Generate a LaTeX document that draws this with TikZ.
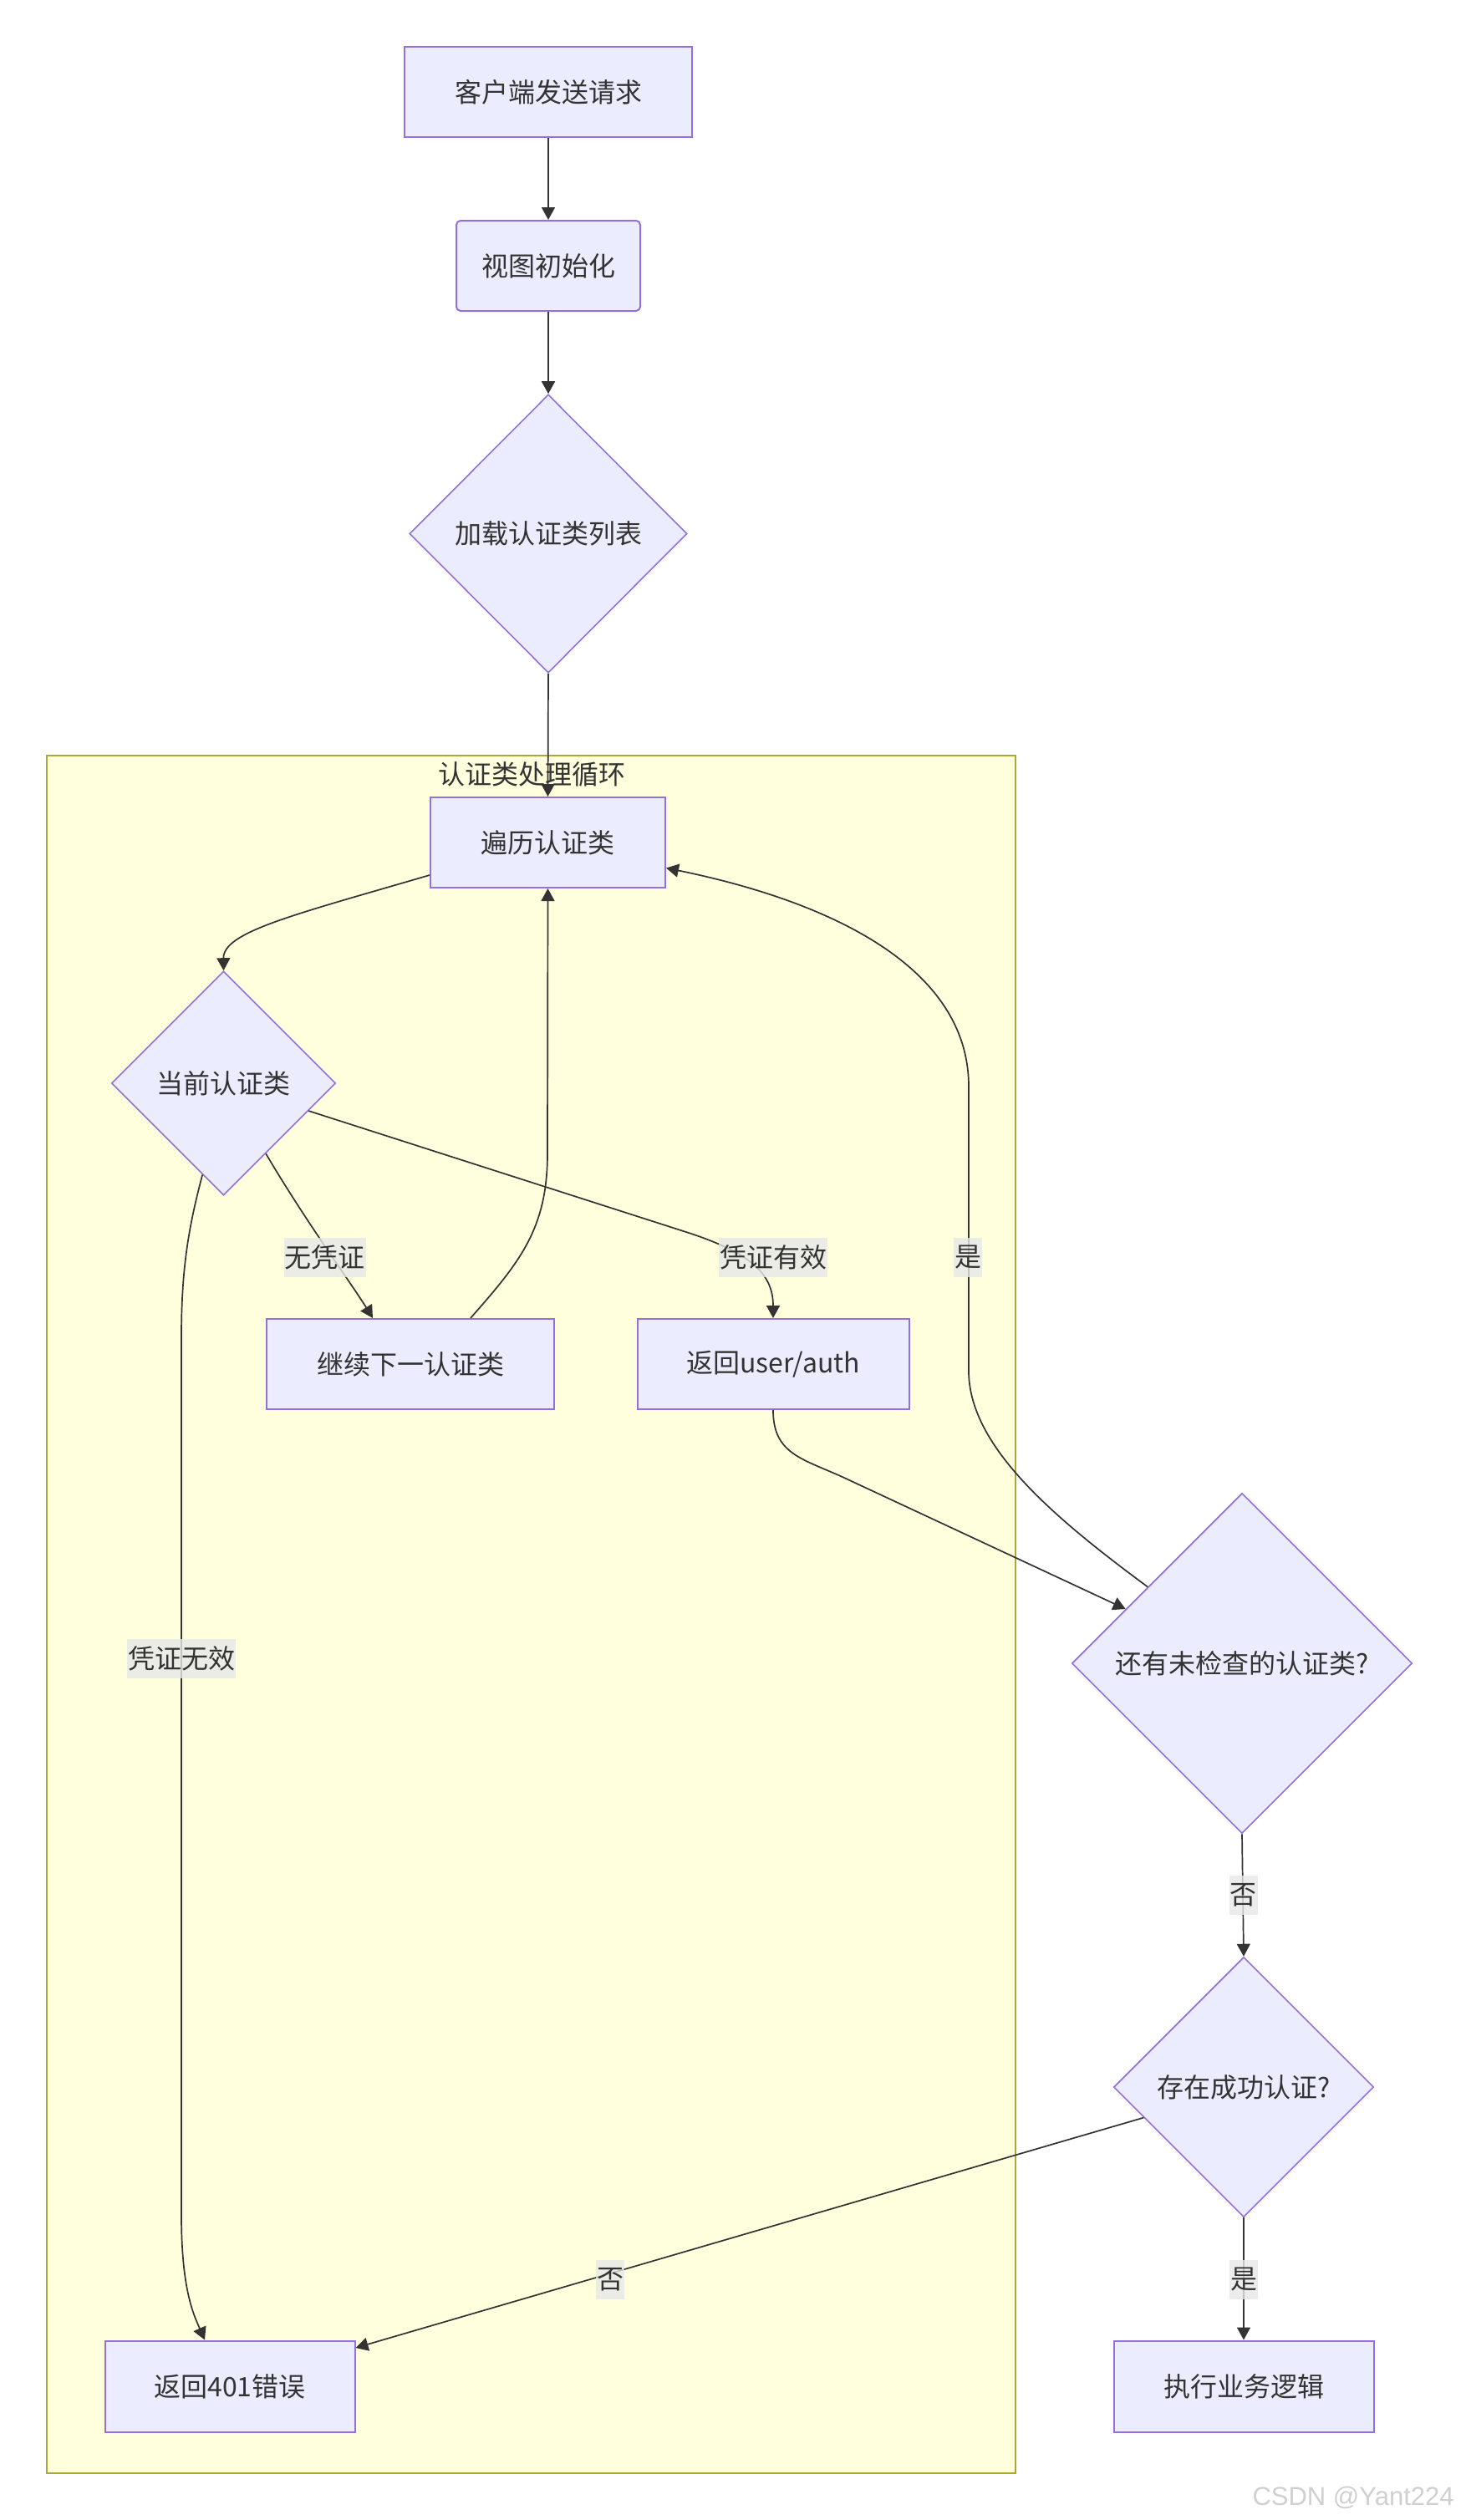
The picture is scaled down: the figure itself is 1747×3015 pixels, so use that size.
\documentclass[tikz,border=0pt]{standalone}
\usepackage{fontspec}
\setmainfont{Noto Sans CJK SC}
\newfontfamily\wmfont{Liberation Sans}
\usetikzlibrary{shapes.geometric,arrows.meta,calc}
\definecolor{nfill}{HTML}{ECECFF}
\definecolor{nstroke}{HTML}{9370DB}
\definecolor{cfill}{HTML}{FFFFDE}
\definecolor{cstroke}{HTML}{AAAA33}
\definecolor{ecol}{HTML}{333333}
\definecolor{txt}{HTML}{333333}
\definecolor{lbg}{HTML}{E8E8E8}
\definecolor{wm}{HTML}{D0D0D0}
\begin{document}
\begin{tikzpicture}[x=0.5pt,y=-0.5pt,
  every node/.style={text=txt,font=\fontsize{16pt}{19pt}\selectfont},
  box/.style={draw=nstroke,fill=nfill,line width=1pt,inner sep=0pt,minimum height=54pt},
  rbox/.style={box,rounded corners=2.5pt},
  dia/.style={diamond,aspect=1,draw=nstroke,fill=nfill,line width=0.8pt,inner sep=0pt},
  lbl/.style={fill=lbg,fill opacity=0.8,text opacity=1,inner xsep=0.5pt,inner ysep=0pt,minimum height=23.5pt},
  cluster/.style={draw=cstroke,fill=cfill,line width=1pt},
  edge/.style={draw=ecol,line width=0.85pt,-{Triangle[length=7.5pt,width=8pt]}}
]
\useasboundingbox[fill=white] (0,0) rectangle (1747,3015);
\draw[cluster] (55.7,903.7) rectangle (1214.5,2959);
\node (ct) at (636,926) {认证类处理循环};

\node[box,minimum width=172pt] (n1) at (656,110) {客户端发送请求};
\node[rbox,minimum width=110pt] (n2) at (656,318) {视图初始化};
\node[dia,minimum width=166pt,minimum height=166.5pt] (n3) at (656,638.5) {加载认证类列表};
\node[box,minimum width=140.5pt,minimum height=54pt] (n4) at (655.5,1008) {遍历认证类};
\node[dia,minimum width=134pt,minimum height=134pt] (n5) at (267.5,1296) {当前认证类};
\node[box,minimum width=172pt] (n6) at (491,1632) {继续下一认证类};
\node[box,minimum width=162.5pt] (n7) at (925,1632) {返回user/auth};
\node[dia,minimum width=203.5pt,minimum height=203.5pt] (n8) at (1486,1990) {还有未检查的认证类?};
\node[dia,minimum width=155.5pt,minimum height=155.5pt] (n9) at (1488,2497) {存在成功认证?};
\node[box,minimum width=155.5pt,minimum height=54.5pt] (n10) at (1488,2855) {执行业务逻辑};
\node[box,minimum width=149.5pt,minimum height=54.5pt] (n11) at (275,2855) {返回401错误};

% edges
\draw[edge] (n1.south) -- (n2.north);
\draw[edge] (n2.south) -- (n3.north);
\draw[edge] (n3.south) -- (n4.north);
\draw[edge] ([yshift=8pt]n4.south west) .. controls (350,1095) and (267,1115) .. (n5.north);
\draw[edge] (n5.-59) .. controls (365,1460) and (420,1535) .. ([xshift=-22.5pt]n6.north);
\draw[edge] ([xshift=36pt]n6.north) .. controls (622,1510) and (655,1470) .. (655,1380) -- (n4.south);
\draw[edge] (n5.-18.5) -- (824,1475) .. controls (900,1500) and (925,1525) .. (n7.north);
\draw[edge] (n5.-103) .. controls (225,1470) and (217,1520) .. (217,1600) -- (217,2650) .. controls (217,2740) and (232,2770) .. ([xshift=-15pt]n11.north);
\draw[edge] (n7.south) .. controls (925,1740) and (960,1745) .. (1010,1768) -- (n8.155.8);
\draw[edge] (n8.141.9) .. controls (1260,1815) and (1159,1730) .. (1159,1640) -- (1159,1300) .. controls (1159,1160) and (1000,1080) .. ([yshift=-15.25pt]n4.east);
\draw[edge] (n8.south) -- (n9.north);
\draw[edge] (n9.197.4) -- ([yshift=23pt]n11.east);
\draw[edge] (n9.south) -- (n10.north);

% edge labels
\node[lbl] (l1) at (388.5,1504) {无凭证};
\node[lbl] (l2) at (925,1504) {凭证有效};
\node[lbl] (l3) at (1158,1504) {是};
\node[lbl] (l4) at (217,1984) {凭证无效};
\node[lbl] (l5) at (1487.5,2267.5) {否};
\node[lbl] (l6) at (730,2727) {否};
\node[lbl] (l7) at (1488,2727) {是};

\node[anchor=base east,text=wm,font=\wmfont\fontsize{15.5pt}{18pt}\selectfont,inner sep=0pt] (wm) at (1740,2997) {CSDN @Yant224};
\end{tikzpicture}
\end{document}
